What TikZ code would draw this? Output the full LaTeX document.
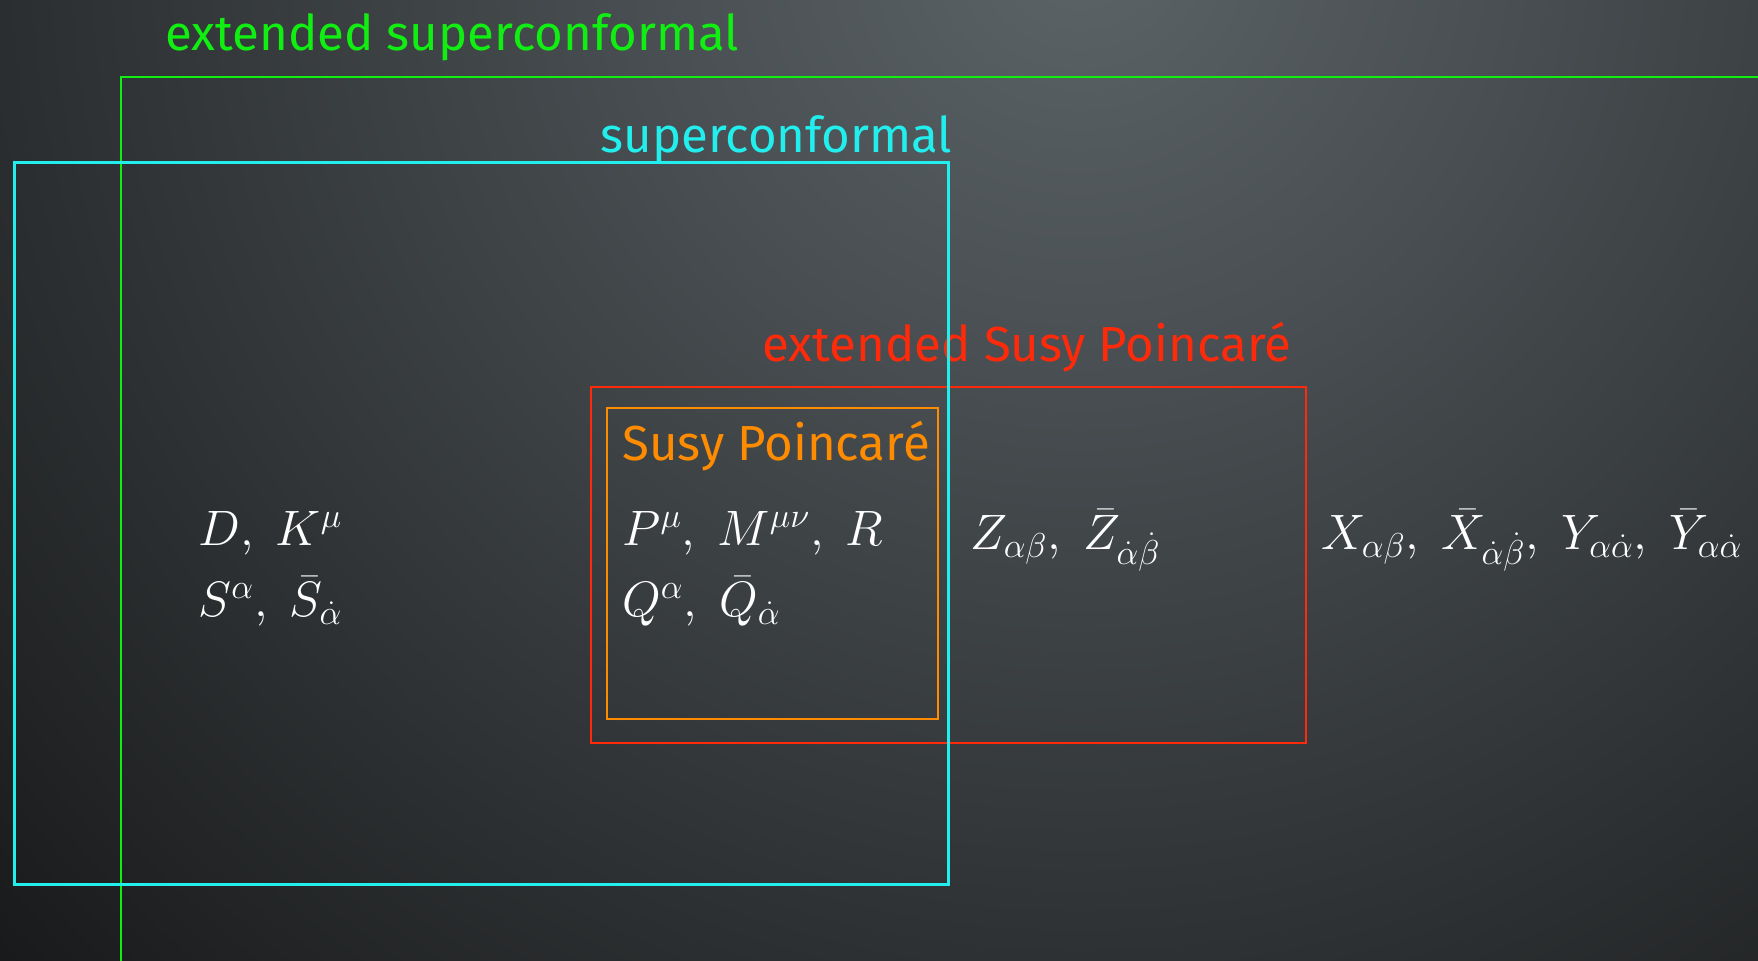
\documentclass[tikz,border=0pt]{standalone}
\usepackage{fontspec}
\newfontfamily\labelfont{Fira Sans}
\definecolor{bglight}{HTML}{5C6468}
\definecolor{bgdark}{HTML}{18191A}
\definecolor{cgreen}{HTML}{11EE11}
\definecolor{ccyan}{HTML}{22EEEE}
\definecolor{cred}{HTML}{FF2A0A}
\definecolor{corange}{HTML}{FF8C00}
\tikzset{
  boxline/.style={line width=1.25pt},
  setlabel/.style={anchor=base west, inner sep=0pt, font=\labelfont\fontsize{24.6}{29}\selectfont},
  gens/.style={anchor=base west, inner sep=0pt, text=white, font=\fontsize{26}{30}\selectfont},
}
\begin{document}
\begin{tikzpicture}[x=0.5pt,y=-0.5pt]
\useasboundingbox (0,0) rectangle (1758,961);
\fill[bgdark] (0,0) rectangle (1758,961);
\begin{scope}
\clip (0,0) rectangle (1758,961);
\shade[inner color=bglight, outer color=bgdark] (1080,-60) circle (1500);
% extended superconformal (open to right and bottom)
\draw[boxline, cgreen] (121,77) rectangle (1780,990);
\end{scope}
\node[setlabel, text=cgreen] (lext) at (165,51) {extended superconformal};
% extended Susy Poincare
\draw[boxline, cred] (591,387) rectangle (1306,743);
\node[setlabel, text=cred] (lesp) at (762,362) {extended Susy Poincaré};
% Susy Poincare
\draw[boxline, corange] (607,408) rectangle (938,719);
\node[setlabel, text=corange] (lsp) at (622,461) {Susy Poincaré};
% superconformal
\draw[boxline, ccyan] (14.6,162.6) rectangle (948.5,884.6);
\node[setlabel, text=ccyan] (lsc) at (600,153) {superconformal};
% generators
\node[gens] (dk) at (198,546) {$D,\;K^\mu$};
\node[gens] (ss) at (198,617) {$S^\alpha,\;\bar S_{\dot\alpha}$};
\node[gens] (pmr) at (622,546) {$P^\mu,\;M^{\mu\nu},\;R$};
\node[gens] (qq) at (622,617) {$Q^\alpha,\;\bar Q_{\dot\alpha}$};
\node[gens] (zz) at (970,550) {$Z_{\alpha\beta},\;\bar Z_{\dot\alpha\dot\beta}$};
\node[gens] (xy) at (1321,550) {$X_{\alpha\beta},\;\bar X_{\dot\alpha\dot\beta},\;Y_{\alpha\dot\alpha},\;\bar Y_{\alpha\dot\alpha}$};
\end{tikzpicture}
\end{document}
